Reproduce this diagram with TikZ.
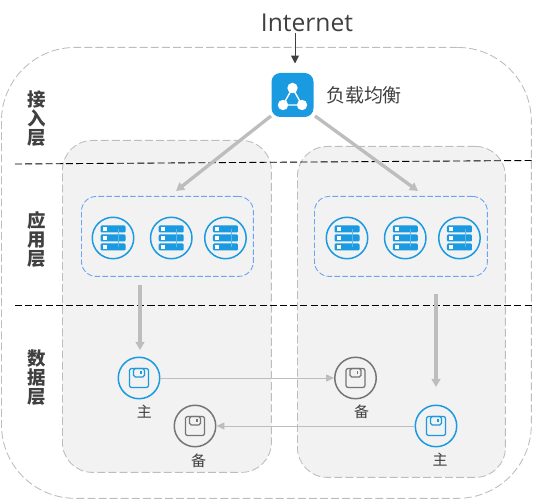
\documentclass[tikz,border=0pt]{standalone}
\usepackage{fontspec}
\setmainfont{Open Sans}
\newfontfamily\cjkfont{Noto Sans CJK SC}
\usepackage{xcolor}
\usetikzlibrary{arrows.meta, positioning, shapes.geometric}
\definecolor{iconblue}{HTML}{1A9AE0}
\definecolor{ringgray}{HTML}{757575}
\definecolor{linegray}{HTML}{BDBDBD}
\definecolor{zonegray}{HTML}{F2F2F2}
\definecolor{clusterblue}{HTML}{6AA5F5}
\definecolor{textdark}{HTML}{404040}
\tikzset{
  region/.style={rectangle, draw=linegray, dash pattern=on 4.5pt off 1.8pt, line width=0.5pt, rounded corners=42pt, inner sep=0pt},
  zone/.style={region, fill=zonegray, rounded corners=17pt},
  cluster/.style={rectangle, draw=clusterblue, dash pattern=on 3.2pt off 1.3pt, line width=0.5pt, rounded corners=8.5pt, inner sep=0pt},
  server/.style={circle, draw=iconblue, line width=0.85pt, minimum size=23.6pt, inner sep=0pt},
  master/.style={circle, draw=iconblue, line width=0.85pt, minimum size=23.6pt, inner sep=0pt},
  standby/.style={circle, draw=ringgray, line width=0.85pt, minimum size=23.6pt, inner sep=0pt},
  layer/.style={font=\cjkfont\bfseries\fontsize{10.5}{10.8}\selectfont, text=textdark, align=center, inner sep=0pt},
  tag/.style={font=\cjkfont\fontsize{8.5}{9}\selectfont, text=textdark, inner sep=0pt},
  arrow/.style={line width=1.9pt, draw=linegray, -{Triangle[width=5pt,length=4.6pt]}},
  thinarrow/.style={line width=0.55pt, draw=linegray, -{Triangle[width=4pt,length=4.5pt]}},
  darkarrow/.style={line width=0.55pt, draw=textdark, -{Triangle[width=4.5pt,length=4.5pt]}},
  cutline/.style={line width=0.5pt, draw=black, dash pattern=on 4pt off 1.8pt},
  servericon/.pic={
    \foreach \dy in {-9,0,9} {
      \fill[iconblue, rounded corners=0.6pt] (-12.5,\dy-3.5) rectangle (12.5,\dy+3.5);
      \fill[white] (-10,\dy-1.7) rectangle (-6.5,\dy+1.7);
    }
    \draw[iconblue!70!white, line width=0.35pt] (5.5,-9) -- (5.5,9);
  },
  diskicon/.pic={
    \draw[line width=0.7pt, rounded corners=1.2pt] (-9.5,-9.5) rectangle (9.5,9.5);
    \draw[line width=0.7pt, rounded corners=1pt] (-5.5,-9.5) rectangle (5.5,-1);
    \draw[line width=0.7pt] (2,-7) -- (2,-4);
  },
  balancericon/.pic={
    \fill[iconblue, rounded corners=5pt] (-21,-22) rectangle (21,22);
    \draw[white, line width=0.8pt] (0,-7) -- (-9.5,10) -- (9.5,10) -- cycle;
    \fill[white] (0,-7) circle (5.2) (-9.5,10) circle (5.2) (9.5,10) circle (5.2);
  }
}
\begin{document}
\begin{tikzpicture}[x=0.02cm, y=-0.02cm]
\useasboundingbox (0,0) rectangle (533,499);
% regions
\node[region, minimum width=10.6cm, minimum height=9.02cm, anchor=north west] (outer) at (1,47) {};
\node[zone, minimum width=4.18cm, minimum height=6.64cm, anchor=north west] (leftzone) at (62,140) {};
\node[zone, minimum width=4.16cm, minimum height=6.62cm, anchor=north west] (rightzone) at (297,146) {};
\node[cluster, minimum width=3.44cm, minimum height=1.6cm, anchor=north west] (leftcluster) at (81,196) {};
\node[cluster, minimum width=3.46cm, minimum height=1.6cm, anchor=north west] (rightcluster) at (314,196) {};

% layer lines
\coordinate (cutaL) at (15,164);
\coordinate (cutaR) at (532,160.5);
\coordinate (cutbL) at (15,305);
\coordinate (cutbR) at (532,305);
\draw[cutline] (cutaL) -- (cutaR);
\draw[cutline] (cutbL) -- (cutbR);

% layers
\node[layer] (access) at (37,118.5) {接\\入\\层};
\node[layer] (app) at (37,239) {应\\用\\层};
\node[layer] (db) at (37,377.5) {数\\据\\层};

% top
\node[font=\fontsize{14}{16}\selectfont, text=textdark, inner sep=0pt] (internet) at (307,23) {Internet};
\node[minimum size=24.4pt, inner sep=0pt] (lb) at (292.5,95) {};
\pic at (lb) {balancericon};
\node[font=\cjkfont\fontsize{10.8}{12}\selectfont, text=textdark, inner sep=0pt, right=6.5pt of lb] (lbtext) {负载均衡};

% servers
\node[server] (srva) at (113,238) {};
\node[server, right=8.7pt of srva] (srvb) {};
\node[server, right=6.4pt of srvb] (srvc) {};
\node[server] (srvd) at (347,238) {};
\node[server, right=8.7pt of srvd] (srve) {};
\node[server, right=6.4pt of srve] (srvf) {};
\foreach \n in {srva,srvb,srvc,srvd,srve,srvf} \pic at (\n) {servericon};

% databases
\node[master] (dba) at (139,378) {};
\node[standby] (dbb) at (355.5,378) {};
\node[standby] (dbc) at (195,426) {};
\node[master] (dbd) at (436,426) {};
\pic[iconblue] at (dba) {diskicon};
\pic[ringgray] at (dbb) {diskicon};
\pic[ringgray] at (dbc) {diskicon};
\pic[iconblue] at (dbd) {diskicon};
\node[tag, below=3pt of dba, xshift=3pt] (taga) {主};
\node[tag, below=3pt of dbb, xshift=3.5pt] (tagb) {备};
\node[tag, below=3.5pt of dbc, xshift=2pt] (tagc) {备};
\node[tag, below=3pt of dbd, xshift=2.3pt] (tagd) {主};

% arrows
\coordinate (inttop) at (295,33);
\coordinate (inttip) at (295,63.5);
\coordinate (lbleft) at (271,116);
\coordinate (lbright) at (315,116);
\coordinate (appleft) at (176,191);
\coordinate (appright) at (418,191);
\coordinate (downa) at (140,285);
\coordinate (downb) at (140,350);
\coordinate (downc) at (436,294);
\coordinate (downd) at (436,387);
\draw[darkarrow] (inttop) -- (inttip);
\draw[arrow] (lbleft) -- (appleft);
\draw[arrow] (lbright) -- (appright);
\draw[arrow] (downa) -- (downb);
\draw[arrow] (downc) -- (downd);
\draw[thinarrow] (dba) -- (dbb);
\draw[thinarrow] (dbd) -- (dbc);
\end{tikzpicture}
\end{document}
